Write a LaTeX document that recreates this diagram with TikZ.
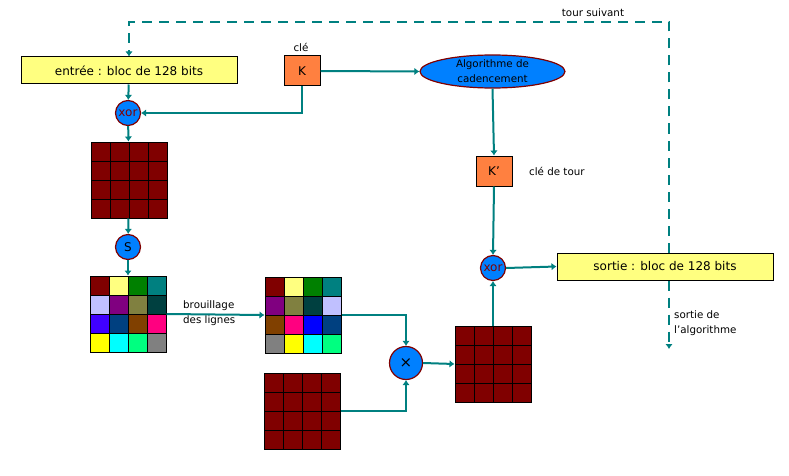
\documentclass[tikz,border=0pt]{standalone}
\usepackage{fontspec}
\setmainfont{DejaVu Sans}
\usetikzlibrary{arrows.meta,shapes.geometric,backgrounds}
\definecolor{sarcelle}{RGB}{0,128,128}
\definecolor{bordeaux}{RGB}{128,0,0}
\definecolor{jaunepale}{RGB}{255,255,128}
\definecolor{orangek}{RGB}{255,128,64}
\definecolor{bleuop}{RGB}{0,128,255}
\definecolor{vertf}{RGB}{0,128,0}
\definecolor{lavande}{RGB}{192,192,255}
\definecolor{pourpre}{RGB}{128,0,128}
\definecolor{kaki}{RGB}{128,128,64}
\definecolor{sarcellefonce}{RGB}{0,64,64}
\definecolor{indigo}{RGB}{64,0,255}
\definecolor{bleunuit}{RGB}{0,64,128}
\definecolor{brun}{RGB}{128,64,0}
\definecolor{rose}{RGB}{255,0,128}
\definecolor{jaunevif}{RGB}{255,255,0}
\definecolor{cyanvif}{RGB}{0,255,255}
\definecolor{printemps}{RGB}{0,255,128}
\definecolor{grismoyen}{RGB}{128,128,128}
\definecolor{bleupur}{RGB}{0,0,255}
\tikzset{
  fleche/.style={draw=sarcelle,line width=2pt,-{Latex[length=5pt,width=7.5pt]}},
  boucle/.style={fleche,dash pattern=on 10pt off 7pt},
  bloc/.style={draw,line width=1pt,fill=jaunepale,minimum width=216pt,minimum height=27pt,font=\fontsize{12}{14}\selectfont},
  cle/.style={draw,line width=1pt,fill=orangek,minimum width=36pt,minimum height=30pt,font=\fontsize{12}{14}\selectfont},
  operateur/.style={circle,draw=bordeaux,line width=1.2pt,fill=bleuop,inner sep=0pt,minimum size=25pt,font=\fontsize{12}{14}\selectfont},
  grille/.style={draw,line width=1pt,inner sep=0pt,minimum size=76pt},
  etiquette/.style={font=\fontsize{10.3}{15}\selectfont,inner sep=0pt}
}
% grille 4x4 : nom, coin haut gauche, couleurs ligne par ligne
\newcommand{\grille}[4]{%
  \foreach \coul [count=\i from 0] in {#4}{%
    \pgfmathtruncatemacro{\col}{mod(\i,4)}%
    \pgfmathtruncatemacro{\lig}{div(\i,4)}%
    \fill[\coul] ({#2+\col*19},{#3+\lig*19}) rectangle ++(19,19);
  }
  \foreach \k in {1,2,3}{%
    \draw ({#2+\k*19},#3) -- ++(0,76);
    \draw (#2,{#3+\k*19}) -- ++(76,0);
  }
  \node[grille] (#1) at ({#2+38},{#3+38}) {};
}
\begin{document}
\begin{tikzpicture}[x=1pt,y=-1pt]
\useasboundingbox (0,0) rectangle (789,476);
\node[bloc] (entree) at (129,70.5) {entrée : bloc de 128 bits};
\node[cle] (K) at (302,71) {K};
\node[etiquette] (lcle) at (301,47) {clé};
\node[operateur,text=bordeaux] (xorA) at (128,113) {xor};
\grille{gA}{91}{142}{bordeaux,bordeaux,bordeaux,bordeaux,bordeaux,bordeaux,bordeaux,bordeaux,bordeaux,bordeaux,bordeaux,bordeaux,bordeaux,bordeaux,bordeaux,bordeaux}
\node[operateur] (S) at (128,247) {S};
\grille{gB}{90}{276}{bordeaux,jaunepale,vertf,sarcelle,lavande,pourpre,kaki,sarcellefonce,indigo,bleunuit,brun,rose,jaunevif,cyanvif,printemps,grismoyen}
\grille{gC}{265}{277}{bordeaux,jaunepale,vertf,sarcelle,pourpre,kaki,sarcellefonce,lavande,brun,rose,bleupur,bleunuit,grismoyen,jaunevif,cyanvif,printemps}
\grille{gD}{264}{373}{bordeaux,bordeaux,bordeaux,bordeaux,bordeaux,bordeaux,bordeaux,bordeaux,bordeaux,bordeaux,bordeaux,bordeaux,bordeaux,bordeaux,bordeaux,bordeaux}
\node[operateur,minimum size=33pt,font=\fontsize{15}{17}\selectfont] (mult) at (406,363) {×};
\grille{gE}{455}{326}{bordeaux,bordeaux,bordeaux,bordeaux,bordeaux,bordeaux,bordeaux,bordeaux,bordeaux,bordeaux,bordeaux,bordeaux,bordeaux,bordeaux,bordeaux,bordeaux}
\node[operateur,text=bordeaux] (xorB) at (493,268) {xor};
\node[bloc] (sortie) at (665,266.5) {sortie : bloc de 128 bits};
\node[ellipse,draw=bordeaux,line width=1.2pt,fill=bleuop,minimum width=145pt,minimum height=33pt,inner sep=0pt,align=center,font=\fontsize{10.3}{15}\selectfont] (algo) at (492.5,71.5) {Algorithme de\\cadencement};
\node[cle] (Kp) at (494,171) {K’};
\node[etiquette,anchor=west] (lcletour) at (529,171) {clé de tour};
\node[etiquette] (lsuivant) at (593,13) {tour suivant};
\node[etiquette,anchor=west,align=left] (lbrouillage) at (183,313.5) {brouillage\\des lignes};
\node[etiquette,anchor=west,align=left] (lsortie) at (674,323.5) {sortie de\\l'algorithme};
\coordinate (haut) at (669,22);
\coordinate (bas) at (669,349);
% boucle du tour suivant, derriere le bloc de sortie
\begin{scope}[on background layer]
\draw[boucle] (sortie.north -| haut) -- (haut) -| (entree.north);
\draw[boucle] (sortie.south -| bas) -- (bas);
\end{scope}
\draw[fleche] (entree) -- (xorA);
\draw[fleche] (K.south) |- (xorA.east);
\draw[fleche] (xorA) -- (gA);
\draw[fleche] (gA) -- (S);
\draw[fleche] (S) -- (gB);
\draw[fleche] (gB.east) -- (gC.west);
\draw[fleche] (gC.east) -| (mult.north);
\draw[fleche] (gD.east) -| (mult.south);
\draw[fleche] (mult.east) -- (gE.west);
\draw[fleche] (gE.north) -- (xorB.south);
\draw[fleche] (xorB.east) -- (sortie.west);
\draw[fleche] (K.east) -- (algo.west);
\draw[fleche] (algo.south) -- (Kp.north);
\draw[fleche] (Kp.south) -- (xorB.north);
\end{tikzpicture}
\end{document}
